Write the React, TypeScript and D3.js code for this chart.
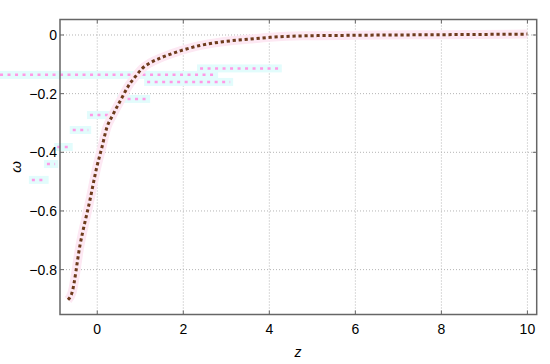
import React, { useRef, useEffect } from "react";
import * as d3 from "d3";

// main curve omega(z)
const zVals = [-0.68, -0.59, -0.4, -0.17, -0.01, 0.11, 0.22, 0.36, 0.57, 0.71, 0.88, 1.04, 1.23, 1.46, 1.69, 1.93, 2.32, 2.92, 3.55, 4.02, 4.78, 6, 8, 10];
const wVals = [-0.903, -0.88, -0.716, -0.563, -0.45, -0.382, -0.317, -0.273, -0.215, -0.177, -0.143, -0.115, -0.095, -0.079, -0.066, -0.054, -0.038, -0.023, -0.014, -0.008, -0.003, -0.001, 0.001, 0.003];

// the stray pink dotted pieces (start z, end z, omega)
const ghostStart = [-1.52, -1.17, -0.93, -0.57, -0.17, 0.53, 1.16, -2.26, 2.39];
const ghostEnd = [-1.2, -0.98, -0.64, -0.21, 0.37, 1.16, 3.09, 2.74, 4.22];
const ghostW = [-0.494, -0.44, -0.382, -0.324, -0.273, -0.218, -0.16, -0.136, -0.114];

const xTicks = [0, 2, 4, 6, 8, 10];
const yTicks = [0, -0.2, -0.4, -0.6, -0.8];

const W = 550;
const H = 364;

const App = () => {
  const ref = useRef<SVGSVGElement>(null);

  useEffect(() => {
    if (!ref.current) return;
    const svg = d3.select(ref.current);
    svg.selectAll("*").remove();

    const left = 60, right = 536.7, top = 19.5, bottom = 314.5;
    const x = d3.scaleLinear().domain([-0.866, 10.216]).range([left, right]);
    const y = d3.scaleLinear().domain([0.0528, -0.953]).range([top, bottom]);
    const font = "Liberation Sans, Arial, sans-serif";

    // grid
    const grid = svg.append("g");
    xTicks.forEach((t) => {
      grid.append("line")
        .attr("x1", x(t)).attr("x2", x(t)).attr("y1", top).attr("y2", bottom)
        .attr("stroke", "#b4b4b4").attr("stroke-dasharray", "1,2");
    });
    yTicks.forEach((t) => {
      grid.append("line")
        .attr("x1", left).attr("x2", right).attr("y1", y(t)).attr("y2", y(t))
        .attr("stroke", "#b4b4b4").attr("stroke-dasharray", "1,2");
    });

    // ghost pieces
    ghostW.forEach((w, i) => {
      const x0 = x(ghostStart[i]);
      const x1 = x(ghostEnd[i]);
      svg.append("rect")
        .attr("x", x0 - 3).attr("y", y(w) - 4)
        .attr("width", x1 - x0 + 6).attr("height", 8)
        .attr("fill", "#e2fcfc");
      svg.append("line")
        .attr("x1", x0).attr("x2", x1).attr("y1", y(w)).attr("y2", y(w))
        .attr("stroke", "#ff99e6").attr("stroke-width", 2.5)
        .attr("stroke-dasharray", "3,4.5");
    });

    const data = zVals.map((z, i) => [z, wVals[i]] as [number, number]);
    const line = d3.line<[number, number]>()
      .x((d) => x(d[0]))
      .y((d) => y(d[1]))
      .curve(d3.curveMonotoneX);

    // faint pink band
    svg.append("path")
      .attr("d", line(data))
      .attr("fill", "none")
      .attr("stroke", "#fde8f3")
      .attr("stroke-width", 9);

    // dotted curve
    svg.append("path")
      .attr("d", line(data))
      .attr("fill", "none")
      .attr("stroke", "#6e3b1c")
      .attr("stroke-width", 3)
      .attr("stroke-dasharray", "3.2,2.8");

    // frame
    svg.append("rect")
      .attr("x", left).attr("y", top)
      .attr("width", right - left).attr("height", bottom - top)
      .attr("fill", "none").attr("stroke", "#666").attr("stroke-width", 1.5);

    // ticks inside
    xTicks.forEach((t) => {
      svg.append("line").attr("x1", x(t)).attr("x2", x(t)).attr("y1", bottom).attr("y2", bottom - 4).attr("stroke", "#666");
      svg.append("line").attr("x1", x(t)).attr("x2", x(t)).attr("y1", top).attr("y2", top + 4).attr("stroke", "#666");
      svg.append("text")
        .attr("x", x(t)).attr("y", 334)
        .attr("text-anchor", "middle")
        .attr("font-family", font).attr("font-size", 14)
        .text(d3.format("d")(t));
    });
    yTicks.forEach((t) => {
      svg.append("line").attr("x1", left).attr("x2", left + 4).attr("y1", y(t)).attr("y2", y(t)).attr("stroke", "#666");
      svg.append("line").attr("x1", right).attr("x2", right - 4).attr("y1", y(t)).attr("y2", y(t)).attr("stroke", "#666");
      svg.append("text")
        .attr("x", 57).attr("y", y(t) + 5)
        .attr("text-anchor", "end")
        .attr("font-family", font).attr("font-size", 14)
        .text(t === 0 ? "0" : "\u2212" + d3.format(".1f")(-t));
    });

    // axis labels
    svg.append("text")
      .attr("x", 298).attr("y", 357)
      .attr("text-anchor", "middle")
      .attr("font-family", font).attr("font-size", 14)
      .attr("font-style", "italic")
      .text("z");
    svg.append("text")
      .attr("transform", "translate(21,167) rotate(-90)")
      .attr("text-anchor", "middle")
      .attr("font-family", font).attr("font-size", 15)
      .attr("font-style", "italic")
      .text("ω");
  }, []);

  return (
    <svg
      ref={ref}
      width={W}
      height={H}
      style={{ position: "absolute", left: 0, top: 0, background: "#fff" }}
    />
  );
};

export default App;
